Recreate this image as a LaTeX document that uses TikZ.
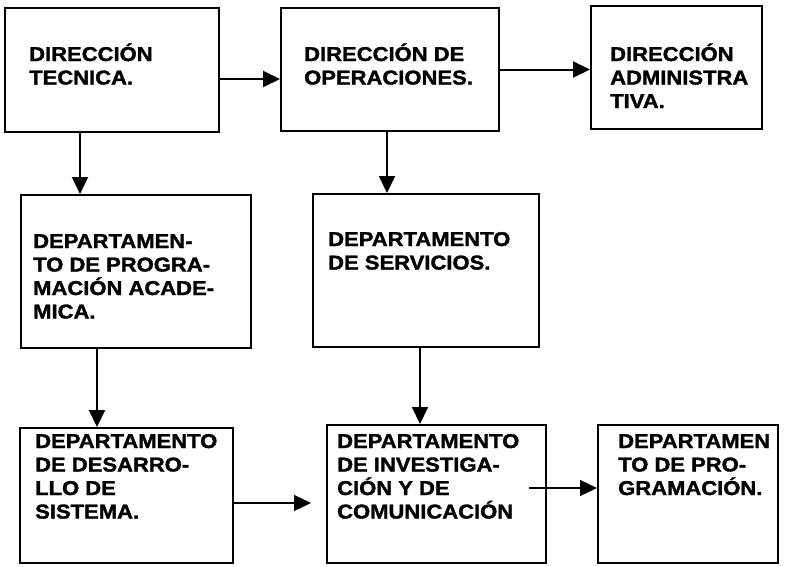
\documentclass[tikz,border=0pt]{standalone}
\usepackage{fontspec}
\setmainfont{Liberation Sans}[FakeStretch=1.1, BoldFeatures={FakeBold=1.6}]
\usetikzlibrary{arrows.meta}

\tikzset{
	caja/.style={draw, line width=2pt, inner sep=0pt},
	texto/.style={anchor=base west, inner sep=0pt, font=\bfseries\fontsize{20}{23.5}\selectfont},
	flecha/.style={-{Triangle[length=17pt,width=16pt]}, line width=2pt}
}

\begin{document}
\begin{tikzpicture}[x=1pt, y=-1pt]
				\useasboundingbox (0,0) rectangle (788,566);
				% fila de direcciones
				\node[caja, minimum width=214pt, minimum height=124pt] (dt) at (112,70) {};
				\node[caja, minimum width=218pt, minimum height=123pt] (do) at (390,69.5) {};
				\node[caja, minimum width=171pt, minimum height=123pt] (da) at (676.5,67.5) {};
				\node[texto] (tdt) at (29,61) {\parbox[t]{200pt}{DIRECCIÓN\\ TECNICA.}};
				\node[texto] (tdo) at (304,61) {\parbox[t]{200pt}{DIRECCIÓN DE\\OPERACIONES.}};
				\node[texto] (tda) at (610,61) {\parbox[t]{160pt}{DIRECCIÓN\\ADMINISTRA\\TIVA.}};
				% fila intermedia
				\node[caja, minimum width=230pt, minimum height=153pt] (dpa) at (136,271.5) {};
				\node[caja, minimum width=226pt, minimum height=153pt] (ds) at (426,270.5) {};
				\node[texto] (tdpa) at (33,248) {\parbox[t]{220pt}{DEPARTAMEN-\\TO DE PROGRA-\\MACIÓN ACADE-\\MICA.}};
				\node[texto] (tds) at (328,246) {\parbox[t]{220pt}{DEPARTAMENTO\\DE SERVICIOS.}};
				% fila de abajo
				\node[caja, minimum width=213pt, minimum height=135pt] (dsi) at (126.5,495.5) {};
				\node[caja, minimum width=219pt, minimum height=138pt] (dic) at (436.5,494) {};
				\node[caja, minimum width=180pt, minimum height=138pt] (dp) at (688,494) {};
				\node[texto] (tdsi) at (35,448) {\parbox[t]{200pt}{DEPARTAMENTO\\DE DESARRO-\\LLO DE\\SISTEMA.}};
				\node[texto] (tdic) at (337,448) {\parbox[t]{210pt}{DEPARTAMENTO\\DE INVESTIGA-\\CIÓN Y DE\\COMUNICACIÓN}};
				\node[texto] (tdp) at (618,448) {\parbox[t]{170pt}{DEPARTAMEN\\TO DE PRO-\\GRAMACIÓN.}};
				% flechas
				\draw[flecha] ([yshift=-9pt]dt.east) -- ([yshift=-9pt]dt.east -| do.west);
				\draw[flecha] (do.east) -- (do.east -| da.west);
				\draw[flecha] ([xshift=-32pt]dt.south) -- ([xshift=-32pt]dt.south |- dpa.north);
				\draw[flecha] ([xshift=-3pt]do.south) -- ([xshift=-3pt]do.south |- ds.north);
				\draw[flecha] ([xshift=-39pt]dpa.south) -- ([xshift=-39pt]dpa.south |- dsi.north);
				\draw[flecha] ([xshift=-6pt]ds.south) -- ([xshift=-6pt]ds.south |- dic.north);
				\draw[flecha, line width=1.3pt, shorten >=15pt] ([yshift=-7.5pt]dsi.east) -- ([yshift=-7.5pt]dsi.east -| dic.west);
				\draw[flecha, line width=1.3pt] ([shift={(-18pt,6pt)}]dic.east) -- ([yshift=6pt]dic.east -| dp.west);
\end{tikzpicture}
\end{document}
